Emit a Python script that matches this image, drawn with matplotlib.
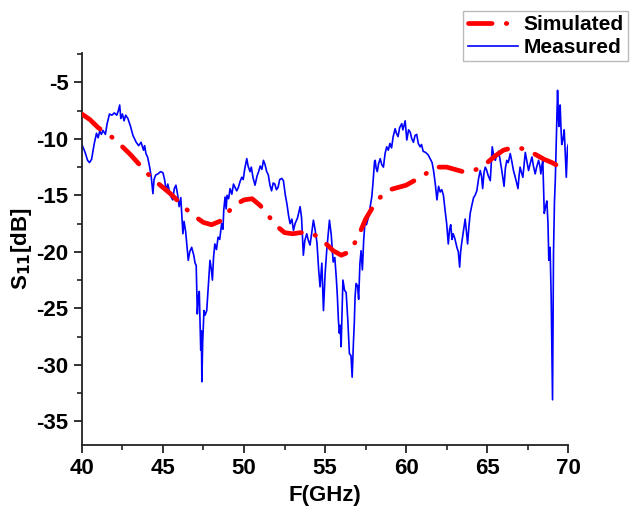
import matplotlib
matplotlib.use('Agg')

import matplotlib.pyplot as plt
from matplotlib.ticker import MultipleLocator

plt.rcParams['font.family'] = ['Liberation Sans', 'DejaVu Sans']
plt.rcParams['font.weight'] = 'bold'
plt.rcParams['mathtext.default'] = 'bf'
plt.rcParams['axes.unicode_minus'] = False

# Simulated S11 (dB), read every 0.5 GHz
sim_f = [40.0 + 0.5 * i for i in range(61)]
sim_db = [-7.8, -8.3, -9.0, -9.5, -10.0, -10.7, -11.4, -12.2, -13.0, -13.7,
          -14.3, -14.9, -15.6, -16.3, -16.9, -17.4, -17.6, -17.3, -16.5, -15.8,
          -15.4, -15.3, -15.9, -16.8, -17.7, -18.3, -18.4, -18.3, -18.3, -18.6,
          -19.2, -19.9, -20.3, -20.0, -18.8, -17.1, -15.9, -15.0, -14.5, -14.3,
          -14.1, -13.7, -13.3, -12.8, -12.5, -12.5, -12.7, -12.9, -12.9, -12.6,
          -12.1, -11.5, -11.0, -10.8, -10.8, -11.0, -11.4, -11.8, -12.1, -12.5,
          -12.8]

# Measured S11 (dB)
meas_f = [40.0, 40.2, 40.35, 40.47, 40.6, 40.75, 40.9, 41.0, 41.1, 41.2, 41.3, 41.45,
          41.55, 41.7, 41.85, 42.0, 42.15, 42.25, 42.33, 42.4, 42.5, 42.6, 42.7, 42.84,
          43.0, 43.15, 43.35, 43.5, 43.65, 43.8, 43.87, 43.95, 44.05, 44.18, 44.28, 44.38,
          44.45, 44.55, 44.69, 44.85, 45.0, 45.1, 45.2, 45.3, 45.45, 45.6, 45.7, 45.8,
          45.9, 46.0, 46.1, 46.23, 46.3, 46.4, 46.56, 46.65, 46.77, 46.9, 46.98, 47.05,
          47.12, 47.18, 47.24, 47.28, 47.33, 47.37, 47.4, 47.45, 47.53, 47.6, 47.7, 47.8,
          47.9, 47.98, 48.05, 48.12, 48.2, 48.3, 48.4, 48.5, 48.62, 48.7, 48.75, 48.83,
          48.9, 48.95, 49.05, 49.14, 49.25, 49.35, 49.45, 49.55, 49.65, 49.75, 49.86, 49.95,
          50.05, 50.17, 50.25, 50.37, 50.45, 50.55, 50.68, 50.8, 50.9, 51.0, 51.1, 51.2,
          51.3, 51.4, 51.5, 51.6, 51.7, 51.8, 51.9, 52.0, 52.1, 52.2, 52.33, 52.43,
          52.55, 52.64, 52.75, 52.84, 52.95, 53.05, 53.15, 53.3, 53.46, 53.55, 53.66, 53.75,
          53.87, 53.95, 54.07, 54.15, 54.28, 54.38, 54.5, 54.6, 54.69, 54.8, 54.9, 55.0,
          55.1, 55.2, 55.27, 55.38, 55.5, 55.6, 55.7, 55.76, 55.82, 55.88, 55.93, 55.99,
          56.05, 56.1, 56.2, 56.3, 56.4, 56.5, 56.6, 56.67, 56.75, 56.8, 56.85, 56.91,
          57.0, 57.07, 57.15, 57.22, 57.3, 57.38, 57.47, 57.55, 57.68, 57.78, 57.88, 57.95,
          58.05, 58.09, 58.15, 58.22, 58.3, 58.4, 58.5, 58.6, 58.7, 58.8, 58.9, 59.0,
          59.1, 59.2, 59.32, 59.4, 59.5, 59.6, 59.73, 59.8, 59.9, 59.94, 60.04, 60.15,
          60.25, 60.35, 60.45, 60.55, 60.65, 60.75, 60.86, 60.95, 61.05, 61.2, 61.35, 61.48,
          61.6, 61.69, 61.8, 61.9, 62.0, 62.1, 62.2, 62.3, 62.4, 62.5, 62.6, 62.68,
          62.75, 62.83, 62.9, 63.0, 63.13, 63.22, 63.3, 63.36, 63.42, 63.5, 63.64, 63.72,
          63.79, 63.87, 63.95, 64.05, 64.16, 64.25, 64.36, 64.47, 64.57, 64.65, 64.72, 64.8,
          64.88, 64.95, 65.05, 65.19, 65.25, 65.31, 65.4, 65.5, 65.6, 65.7, 65.8, 65.9,
          66.04, 66.12, 66.21, 66.3, 66.42, 66.52, 66.62, 66.75, 66.9, 66.97, 67.03, 67.1,
          67.2, 67.28, 67.35, 67.45, 67.55, 67.65, 67.76, 67.85, 67.96, 68.05, 68.17, 68.25,
          68.31, 68.38, 68.43, 68.52, 68.6, 68.68, 68.75, 68.8, 68.88, 68.95, 69.03, 69.09,
          69.15, 69.2, 69.27, 69.34, 69.38, 69.42, 69.46, 69.5, 69.55, 69.6, 69.68, 69.75,
          69.82, 69.88, 69.95, 70.0]
meas_db = [-10.5, -11.2, -11.9, -12.1, -11.8, -10.5, -9.5, -9.9, -9.3, -9.6, -9.25, -9.6,
           -8.7, -7.8, -7.9, -7.7, -7.9, -7.5, -7.0, -8.2, -7.8, -8.4, -7.9, -8.2,
           -8.9, -9.7, -10.3, -10.6, -10.3, -11.0, -10.6, -11.3, -11.6, -12.5, -13.4, -14.85,
           -13.6, -13.2, -13.1, -12.9, -13.0, -13.6, -14.6, -14.0, -15.0, -15.4, -14.4, -14.1,
           -14.9, -16.0, -15.2, -18.4, -17.3, -18.2, -20.75, -20.0, -19.6, -20.3, -21.0, -21.2,
           -25.5, -24.0, -23.5, -26.0, -28.7, -27.0, -31.5, -28.0, -25.2, -25.6, -25.2, -23.0,
           -20.75, -21.5, -22.5, -20.5, -19.3, -19.8, -18.7, -18.9, -17.5, -18.0, -16.3, -15.15,
           -16.2, -15.0, -15.3, -14.4, -14.9, -14.0, -14.3, -14.6, -14.3, -13.8, -13.4, -13.6,
           -12.6, -11.75, -12.4, -12.9, -12.5, -13.4, -14.1, -13.3, -12.9, -12.4, -12.7, -11.9,
           -12.3, -12.9, -13.2, -14.1, -14.6, -13.9, -14.0, -14.5, -14.3, -13.6, -13.5, -13.7,
           -15.0, -15.7, -16.8, -17.5, -17.1, -18.1, -17.5, -17.0, -16.0, -17.0, -20.3, -19.0,
           -18.4, -18.9, -19.4, -18.6, -17.2, -18.0, -19.2, -21.5, -23.1, -21.0, -25.2, -22.0,
           -19.9, -18.3, -17.2, -18.5, -20.9, -20.5, -22.5, -24.0, -26.0, -27.2, -26.5, -28.4,
           -25.0, -22.5, -23.4, -23.6, -26.0, -29.0, -29.2, -31.1, -28.0, -26.4, -24.0, -22.8,
           -23.0, -24.2, -21.0, -19.9, -21.6, -19.0, -17.2, -17.6, -16.9, -16.0, -15.15, -14.0,
           -12.0, -11.9, -12.6, -12.9, -12.2, -11.75, -12.3, -12.5, -11.3, -10.7, -11.0, -10.4,
           -10.8, -9.8, -9.1, -9.5, -9.8, -9.0, -8.65, -9.2, -8.6, -8.4, -10.1, -9.2,
           -9.4, -10.0, -10.3, -9.7, -9.6, -10.4, -10.7, -10.5, -11.1, -11.2, -11.4, -11.75,
           -12.1, -12.8, -14.0, -15.4, -14.2, -14.7, -14.5, -15.0, -16.3, -17.5, -19.3, -18.0,
           -17.6, -18.9, -18.4, -18.8, -19.6, -20.0, -21.35, -20.0, -19.3, -18.5, -17.1, -18.2,
           -19.3, -17.8, -16.6, -15.9, -15.2, -15.0, -14.6, -13.5, -12.8, -13.3, -14.4, -13.0,
           -12.5, -12.7, -13.2, -13.7, -12.2, -10.7, -11.5, -11.9, -11.4, -11.1, -11.9, -12.8,
           -14.2, -12.6, -11.9, -12.1, -11.3, -12.0, -12.8, -13.5, -14.4, -13.2, -12.5, -12.9,
           -13.4, -12.2, -11.2, -12.0, -12.8, -12.2, -11.6, -12.4, -13.1, -12.5, -11.9, -12.4,
           -13.1, -12.3, -11.9, -16.6, -16.0, -15.5, -17.5, -20.75, -19.6, -24.3, -33.1, -20.1,
           -15.5, -13.7, -9.5, -5.7, -7.5, -8.9, -7.5, -7.0, -9.0, -10.5, -10.0, -9.2,
           -11.5, -13.4, -10.8, -10.5]

fig = plt.figure(figsize=(6.3, 5.13), dpi=100)
ax = fig.add_axes([0.130, 0.1326, 0.772, 0.764])

ax.plot(sim_f, sim_db, color='#ff0000', linewidth=3.4,
        linestyle=(0, (5, 3, 0.1, 3)), dash_capstyle='round',
        label='Simulated', zorder=3)
ax.plot(meas_f, meas_db, color='#0000ff', linewidth=1.2, label='Measured', zorder=2)

ax.set_xlim(40, 70)
ax.set_ylim(-37.1, -2.4)
ax.xaxis.set_major_locator(MultipleLocator(5))
ax.xaxis.set_minor_locator(MultipleLocator(2.5))
ax.yaxis.set_minor_locator(MultipleLocator(2.5))
ax.set_yticks([-35, -30, -25, -20, -15, -10, -5])

for s in ['top', 'right']:
    ax.spines[s].set_visible(False)
for s in ['left', 'bottom']:
    ax.spines[s].set_linewidth(1.3)
    ax.spines[s].set_color('#222222')

ax.tick_params(which='major', direction='out', length=6, width=1.3,
               labelsize=16, color='#222222')
ax.tick_params(which='minor', direction='out', length=3.5, width=1.2, color='#222222')

ax.set_xlabel('F(GHz)', fontsize=16, fontweight='bold', labelpad=4)
ax.set_ylabel('S$_{11}$[dB]', fontsize=16, fontweight='bold', labelpad=2)

leg = ax.legend(loc='upper right', bbox_to_anchor=(0.997, 0.979),
                bbox_transform=fig.transFigure, fontsize=15, frameon=True,
                fancybox=False, edgecolor='#aaaaaa', handlelength=2.4,
                handletextpad=0.3, borderpad=0.2, labelspacing=0.2,
                borderaxespad=0)
leg.get_frame().set_linewidth(1.0)
for t in leg.get_texts():
    t.set_fontweight('bold')

fig.savefig('out.png', dpi=100)
plt.close(fig)
